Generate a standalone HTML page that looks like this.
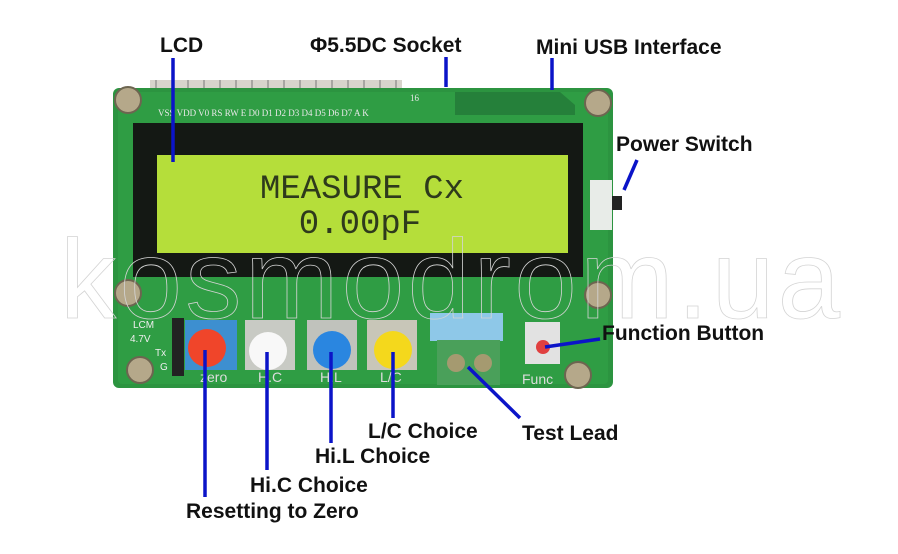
<!DOCTYPE html>
<html><head><meta charset="utf-8"><style>
html,body{margin:0;padding:0;background:#fff;width:898px;height:554px;overflow:hidden}
svg{display:block}
.l{font-family:"Liberation Sans",Arial,sans-serif;font-size:21px;font-weight:bold;fill:#111}
.s{font-family:"Liberation Sans",Arial,sans-serif}
.m{font-family:"Liberation Mono",monospace;font-size:34px;fill:#2e3a1c}
.pin{font-family:"Liberation Serif",serif;font-size:9px;fill:#e8e8e8}
</style></head><body>
<svg width="898" height="554" viewBox="0 0 898 554" xmlns="http://www.w3.org/2000/svg">
<rect width="898" height="554" fill="#fff"/>
<rect x="150" y="80" width="252" height="14" fill="#d8d4cc"/>
<g stroke="#777" stroke-width="1">
<line x1="156" y1="80" x2="156" y2="94"/><line x1="172" y1="80" x2="172" y2="94"/><line x1="188" y1="80" x2="188" y2="94"/><line x1="204" y1="80" x2="204" y2="94"/><line x1="220" y1="80" x2="220" y2="94"/><line x1="236" y1="80" x2="236" y2="94"/><line x1="252" y1="80" x2="252" y2="94"/><line x1="268" y1="80" x2="268" y2="94"/><line x1="284" y1="80" x2="284" y2="94"/><line x1="300" y1="80" x2="300" y2="94"/><line x1="316" y1="80" x2="316" y2="94"/><line x1="332" y1="80" x2="332" y2="94"/><line x1="348" y1="80" x2="348" y2="94"/><line x1="364" y1="80" x2="364" y2="94"/><line x1="380" y1="80" x2="380" y2="94"/><line x1="396" y1="80" x2="396" y2="94"/>
</g>
<rect x="113" y="88" width="500" height="300" rx="6" fill="#2c9440"/>
<rect x="118" y="92" width="490" height="292" rx="4" fill="#2f9d44"/>
<path d="M455 92 L560 92 L575 105 L575 115 L455 115Z" fill="#25803a"/>
<text x="158" y="116" class="pin">VSS VDD V0 RS RW E D0 D1 D2 D3 D4 D5 D6 D7 A K</text>
<text x="410" y="101" class="pin">16</text>
<rect x="133" y="123" width="450" height="154" fill="#141814"/>
<rect x="157" y="155" width="411" height="98" fill="#b5de3a"/>
<text x="362" y="198" text-anchor="middle" class="m">MEASURE Cx</text>
<text x="360" y="233" text-anchor="middle" class="m">0.00pF</text>
<rect x="590" y="180" width="22" height="50" fill="#e8ece8"/>
<rect x="612" y="196" width="10" height="14" fill="#222"/>
<g fill="#b5a88a" stroke="#6d6550" stroke-width="2">
<circle cx="128" cy="100" r="13"/><circle cx="598" cy="103" r="13"/>
<circle cx="128" cy="293" r="13"/><circle cx="598" cy="295" r="13"/>
<circle cx="140" cy="370" r="13"/><circle cx="578" cy="375" r="13"/>
</g>
<rect x="172" y="318" width="12" height="58" fill="#222"/>
<g class="s" font-size="10" fill="#eee">
<text x="133" y="328">LCM</text><text x="130" y="342">4.7V</text><text x="155" y="356">Tx</text><text x="160" y="370">G</text>
</g>
<rect x="185" y="320" width="52" height="50" fill="#3d8fd0"/>
<circle cx="207" cy="348" r="19" fill="#f0452a"/>
<rect x="245" y="320" width="50" height="50" fill="#c8cac4"/>
<circle cx="268" cy="351" r="19" fill="#f8f8f8"/>
<rect x="307" y="320" width="50" height="50" fill="#c0c2bc"/>
<circle cx="332" cy="350" r="19" fill="#2a86e0"/>
<rect x="367" y="320" width="50" height="50" fill="#c8c6b8"/>
<circle cx="393" cy="350" r="19" fill="#f4d81c"/>
<g class="s" font-size="14" fill="#ddd"><text x="200" y="382">zero</text><text x="258" y="382">H.C</text><text x="320" y="382">H.L</text><text x="380" y="382">L/C</text><text x="522" y="384">Func</text></g>
<rect x="430" y="313" width="73" height="28" fill="#8ec8e8"/>
<rect x="437" y="340" width="63" height="45" fill="#4aa05a"/>
<circle cx="456" cy="363" r="9" fill="#a59a70"/><circle cx="483" cy="363" r="9" fill="#a59a70"/>
<rect x="525" y="322" width="35" height="42" fill="#e2e2e2"/>
<circle cx="543" cy="347" r="7" fill="#e04040"/>
<text x="60" y="318" font-size="112" fill="none" stroke="#d4d4d4" stroke-width="0.8" class="s" textLength="780">kosmodrom.ua</text>
<g stroke="#0b14c8" stroke-width="3.5" fill="none">
<line x1="173" y1="58" x2="173" y2="162"/>
<line x1="446" y1="57" x2="446" y2="87"/>
<line x1="552" y1="58" x2="552" y2="90"/>
<line x1="637" y1="160" x2="624" y2="190"/>
<line x1="600" y1="339" x2="545" y2="347"/>
<line x1="468" y1="367" x2="520" y2="418"/>
<line x1="393" y1="352" x2="393" y2="418"/>
<line x1="331" y1="352" x2="331" y2="443"/>
<line x1="267" y1="352" x2="267" y2="470"/>
<line x1="205" y1="350" x2="205" y2="497"/>
</g>
<text class="l" x="160" y="52">LCD</text>
<text class="l" x="310" y="52">Φ5.5DC Socket</text>
<text class="l" x="536" y="54">Mini USB Interface</text>
<text class="l" x="616" y="151">Power Switch</text>
<text class="l" x="602" y="340">Function Button</text>
<text class="l" x="522" y="440">Test Lead</text>
<text class="l" x="368" y="438">L/C Choice</text>
<text class="l" x="315" y="463">Hi.L Choice</text>
<text class="l" x="250" y="492">Hi.C Choice</text>
<text class="l" x="186" y="518">Resetting to Zero</text>
</svg>
</body></html>
